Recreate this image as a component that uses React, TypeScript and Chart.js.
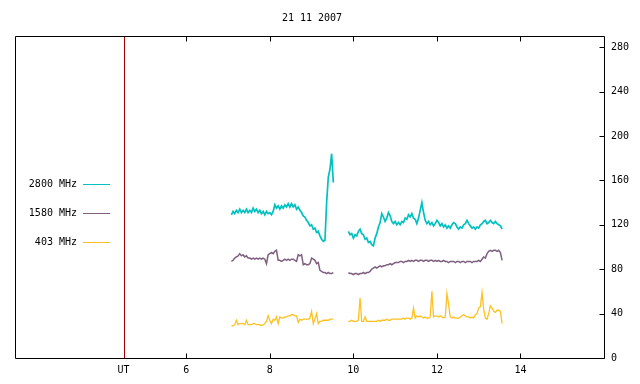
import React, { useEffect, useRef } from "react";
import { Chart, registerables } from "chart.js";

Chart.register(...registerables);

const TITLE = "21 11 2007";
const SERIES_NAMES = ["2800 MHz", "1580 MHz", "403 MHz"];
const SERIES_COLORS = ["#00c0c0", "#7f5f7f", "#ffc020"];
const SERIES_WIDTHS = [1.7, 1.5, 1.3];
const UT_MARK = 4.5;
const X_TICKS = [UT_MARK, 6, 8, 10, 12, 14];
const X_TICK_LABELS = ["UT", "6", "8", "10", "12", "14"];
const Y_TICKS = [0, 40, 80, 120, 160, 200, 240, 280];
const X_MIN = 1.9;
const X_MAX = 16;
const Y_MIN = 0;
const Y_MAX = 290;

// sampling grid (hours UT)
const SEG1_START = 7.08;
const SEG2_START = 9.88;
const STEP = 0.04;

// 2800 MHz
const f2800a = [
  129, 132, 130, 133, 131, 134, 131, 133, 131, 134, 131, 133, 131, 135, 132, 134, 131, 133, 130, 132,
  129, 132, 130, 131, 129, 132, 138, 135, 137, 134, 137, 135, 138, 136, 139, 136, 139, 136, 138, 134,
  136, 133, 131, 128, 127, 124, 122, 119, 120, 116, 117, 113, 114, 110, 107, 105, 106, 140, 163, 170,
  184, 158,
];
const f2800b = [
  114, 111, 112, 108, 111, 110, 114, 116, 112, 111, 107, 108, 104, 105, 102, 101, 108, 112, 118, 122,
  130, 127, 123, 126, 131, 128, 123, 121, 123, 120, 122, 120, 123, 122, 126, 125, 129, 127, 130, 126,
  125, 121, 126, 133, 140, 131, 124, 121, 123, 120, 122, 119, 121, 124, 122, 119, 121, 118, 120, 117,
  119, 117, 120, 122, 121, 118, 116, 118, 117, 120, 121, 124, 121, 119, 117, 118, 116, 118, 117, 120,
  121, 123, 124, 121, 122, 124, 122, 121, 123, 121, 120, 119, 116,
];

// 1580 MHz
const f1580a = [
  87, 88, 90, 91, 92, 94, 92, 93, 91, 92, 90, 90, 89, 90, 89, 90, 89, 90, 89, 90,
  89, 85, 93, 94, 95, 94, 96, 97, 88, 88, 87, 88, 89, 88, 89, 88, 89, 89, 88, 87,
  93, 92, 93, 84, 85, 84, 84, 85, 90, 89, 88, 85, 86, 79, 78, 77, 77, 76, 77, 76,
  76, 77,
];
const f1580b = [
  77, 76, 76, 75, 76, 76, 75, 76, 76, 77, 76, 77, 77, 78, 80, 81, 82, 81, 82, 83,
  82, 83, 83, 84, 84, 85, 84, 85, 86, 86, 86, 87, 87, 86, 87, 87, 88, 87, 88, 87,
  88, 88, 87, 88, 88, 87, 88, 88, 87, 88, 88, 87, 88, 87, 88, 87, 87, 88, 87, 87,
  86, 87, 87, 87, 86, 87, 87, 86, 87, 87, 86, 87, 87, 87, 86, 87, 87, 87, 88, 87,
  89, 91, 90, 94, 96, 97, 96, 97, 97, 96, 97, 95, 88,
];

// 403 MHz
const f403a = [
  29, 29, 30, 34, 30, 31, 31, 31, 30, 34, 30, 30, 30, 31, 31, 30, 30, 30, 29, 30,
  31, 33, 38, 34, 31, 35, 34, 37, 31, 37, 36, 36, 37, 37, 38, 38, 39, 39, 38, 38,
  32, 35, 34, 35, 35, 35, 35, 36, 42, 31, 35, 40, 31, 33, 33, 34, 34, 34, 34, 35,
  35, 35,
];
const f403b = [
  33, 33, 34, 33, 33, 33, 34, 54, 33, 33, 37, 33, 33, 33, 33, 33, 33, 33, 34, 33,
  34, 34, 34, 35, 34, 34, 35, 35, 35, 35, 35, 35, 35, 36, 35, 36, 36, 35, 36, 45,
  36, 38, 37, 38, 37, 36, 37, 36, 36, 37, 60, 37, 38, 38, 37, 38, 37, 36, 37, 58,
  48, 37, 36, 37, 36, 36, 36, 37, 38, 39, 38, 37, 37, 36, 37, 36, 39, 40, 45, 46,
  59, 44, 36, 35, 40, 47, 45, 42, 41, 43, 43, 42, 31,
];

const FONT_FAMILY = "'DejaVu Sans Mono', 'Liberation Mono', monospace";

function buildSeries(a: number[], b: number[]) {
  const pts: { x: number; y: number | null }[] = [];
  a.forEach((v, i) => pts.push({ x: +(SEG1_START + i * STEP).toFixed(2), y: v }));
  pts.push({ x: (SEG1_START + a.length * STEP + SEG2_START) / 2, y: null });
  b.forEach((v, i) => pts.push({ x: +(SEG2_START + i * STEP).toFixed(2), y: v }));
  return pts;
}

const framePlugin = {
  id: "gnuFrame",
  beforeDatasetsDraw(chart: any) {
    const { ctx, chartArea, scales } = chart;
    const x = Math.round(scales.x.getPixelForValue(UT_MARK)) + 0.5;
    ctx.save();
    ctx.strokeStyle = "#a00000";
    ctx.lineWidth = 1;
    ctx.beginPath();
    ctx.moveTo(x, chartArea.top);
    ctx.lineTo(x, chartArea.bottom);
    ctx.stroke();
    ctx.restore();
  },
  afterDraw(chart: any) {
    const { ctx, chartArea, scales } = chart;
    const L = Math.round(chartArea.left) + 0.5;
    const R = Math.round(chartArea.right) + 0.5;
    const T = Math.round(chartArea.top) + 0.5;
    const B = Math.round(chartArea.bottom) + 0.5;
    ctx.save();
    ctx.strokeStyle = "#000";
    ctx.lineWidth = 1;
    ctx.beginPath();
    ctx.rect(L, T, R - L, B - T);
    // x ticks (inward, mirrored on top)
    X_TICKS.forEach((t) => {
      if (t === UT_MARK) return;
      const px = Math.round(scales.x.getPixelForValue(t)) + 0.5;
      ctx.moveTo(px, B);
      ctx.lineTo(px, B - 5);
      ctx.moveTo(px, T);
      ctx.lineTo(px, T + 5);
    });
    // y ticks on right (inward)
    Y_TICKS.forEach((v) => {
      const py = Math.round(scales.y.getPixelForValue(v)) + 0.5;
      ctx.moveTo(R, py);
      ctx.lineTo(R - 5, py);
    });
    ctx.stroke();

    // title
    ctx.fillStyle = "#000";
    ctx.font = `10px ${FONT_FAMILY}`;
    ctx.textAlign = "center";
    ctx.textBaseline = "middle";
    ctx.fillText(TITLE, 312, 18);

    // legend
    const legendY = [184, 213, 242];
    SERIES_NAMES.forEach((name, i) => {
      const y = legendY[i];
      ctx.fillStyle = "#000";
      ctx.textAlign = "right";
      ctx.textBaseline = "middle";
      ctx.fillText(name, 77, y);
      ctx.strokeStyle = SERIES_COLORS[i];
      ctx.beginPath();
      ctx.moveTo(83, y + 0.5);
      ctx.lineTo(110, y + 0.5);
      ctx.stroke();
    });
    ctx.restore();
  },
};

export default function App() {
  const canvasRef = useRef<HTMLCanvasElement | null>(null);

  useEffect(() => {
    document.body.style.margin = "0";
    const canvas = canvasRef.current;
    if (!canvas) return;
    const seriesData = [
      buildSeries(f2800a, f2800b),
      buildSeries(f1580a, f1580b),
      buildSeries(f403a, f403b),
    ];
    const chart = new Chart(canvas, {
      type: "line",
      data: {
        datasets: SERIES_NAMES.map((name, i) => ({
          label: name,
          data: seriesData[i] as any,
          borderColor: SERIES_COLORS[i],
          backgroundColor: SERIES_COLORS[i],
          borderWidth: SERIES_WIDTHS[i],
          pointRadius: 0,
          tension: 0,
          spanGaps: false,
          fill: false,
        })),
      },
      options: {
        animation: false,
        responsive: true,
        maintainAspectRatio: false,
        layout: { padding: { left: 15, top: 36, right: 0, bottom: 0 } },
        plugins: {
          legend: { display: false },
          title: { display: false },
          tooltip: { enabled: false },
        },
        scales: {
          x: {
            type: "linear",
            position: "bottom",
            min: X_MIN,
            max: X_MAX,
            grid: { display: false, drawTicks: false },
            border: { display: false },
            afterBuildTicks: (scale: any) => {
              scale.ticks = X_TICKS.map((v) => ({ value: v }));
            },
            afterFit: (scale: any) => {
              scale.height = 26;
            },
            ticks: {
              autoSkip: false,
              maxRotation: 0,
              padding: 6,
              color: "#000",
              font: { family: FONT_FAMILY, size: 10 },
              callback: (v: any) => {
                const idx = X_TICKS.indexOf(Number(v));
                return idx >= 0 ? X_TICK_LABELS[idx] : "";
              },
            },
          },
          y: {
            type: "linear",
            position: "right",
            min: Y_MIN,
            max: Y_MAX,
            grid: { display: false, drawTicks: false },
            border: { display: false },
            afterBuildTicks: (scale: any) => {
              scale.ticks = Y_TICKS.map((v) => ({ value: v }));
            },
            afterFit: (scale: any) => {
              scale.width = 36;
            },
            ticks: {
              autoSkip: false,
              padding: 7,
              color: "#000",
              font: { family: FONT_FAMILY, size: 10 },
              callback: (v: any) => String(v),
            },
          },
        },
      },
      plugins: [framePlugin],
    });
    return () => chart.destroy();
  }, []);

  return (
    <div style={{ position: "fixed", left: 0, top: 0, width: 640, height: 384, background: "#fff" }}>
      <canvas ref={canvasRef} />
    </div>
  );
}
